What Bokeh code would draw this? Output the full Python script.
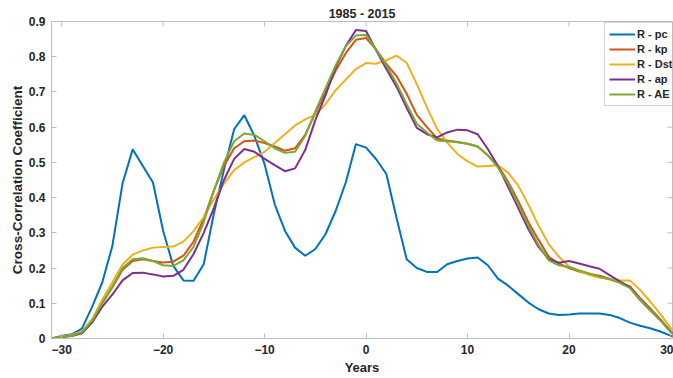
from bokeh.plotting import figure
from bokeh.models import Range1d, FixedTicker, Legend, LegendItem
from bokeh.embed import file_html
from bokeh.resources import INLINE

# Lag (years) and cross-correlation coefficients, 1985 - 2015
years = list(range(-31, 32))

r_pc = [0.0, 0.007, 0.012, 0.028, 0.09, 0.159, 0.263, 0.44, 0.537, 0.49, 0.443,
        0.306, 0.206, 0.165, 0.164, 0.211, 0.354, 0.48, 0.594, 0.634, 0.575, 0.495,
        0.381, 0.306, 0.258, 0.235, 0.254, 0.296, 0.362, 0.443, 0.552, 0.542, 0.509,
        0.467, 0.343, 0.225, 0.2, 0.189, 0.189, 0.211, 0.22, 0.227, 0.23, 0.208,
        0.17, 0.15, 0.126, 0.102, 0.083, 0.071, 0.067, 0.068, 0.071, 0.071, 0.071,
        0.067, 0.058, 0.045, 0.036, 0.029, 0.02, 0.008, 0.003]

r_kp = [0.0, 0.005, 0.008, 0.018, 0.05, 0.1, 0.145, 0.195, 0.22, 0.225, 0.22,
        0.216, 0.218, 0.235, 0.275, 0.34, 0.42, 0.49, 0.54, 0.56, 0.562, 0.555,
        0.545, 0.533, 0.54, 0.578, 0.64, 0.7, 0.76, 0.81, 0.848, 0.853, 0.82,
        0.78, 0.745, 0.695, 0.635, 0.6, 0.568, 0.562, 0.558, 0.553, 0.545, 0.52,
        0.49, 0.445, 0.39, 0.33, 0.28, 0.232, 0.213, 0.2, 0.19, 0.183, 0.178,
        0.17, 0.16, 0.148, 0.115, 0.085, 0.055, 0.02, 0.0]

r_dst = [0.0, 0.006, 0.01, 0.02, 0.055, 0.11, 0.16, 0.21, 0.238, 0.25, 0.258,
         0.26, 0.261, 0.275, 0.305, 0.345, 0.395, 0.44, 0.478, 0.5, 0.515, 0.53,
         0.555, 0.58, 0.605, 0.622, 0.635, 0.665, 0.705, 0.735, 0.765, 0.782, 0.78,
         0.79, 0.803, 0.783, 0.722, 0.656, 0.595, 0.556, 0.524, 0.503, 0.488, 0.49,
         0.492, 0.471, 0.434, 0.38, 0.32, 0.268, 0.232, 0.205, 0.192, 0.18, 0.173,
         0.168, 0.165, 0.165, 0.138, 0.105, 0.07, 0.03, 0.0]

r_ap = [0.0, 0.004, 0.007, 0.015, 0.045, 0.09, 0.125, 0.165, 0.186, 0.187, 0.182,
        0.176, 0.178, 0.195, 0.24, 0.3, 0.37, 0.45, 0.51, 0.538, 0.53, 0.51,
        0.492, 0.475, 0.483, 0.535, 0.62, 0.69, 0.77, 0.83, 0.876, 0.873, 0.818,
        0.765, 0.715, 0.655, 0.598, 0.58, 0.571, 0.585, 0.593, 0.591, 0.58, 0.538,
        0.49, 0.43, 0.37, 0.31, 0.26, 0.225, 0.215, 0.22, 0.213, 0.205, 0.198,
        0.18, 0.162, 0.145, 0.11, 0.08, 0.052, 0.02, 0.0]

r_ae = [0.0, 0.005, 0.008, 0.018, 0.05, 0.1, 0.148, 0.2, 0.225, 0.228, 0.22,
        0.208, 0.206, 0.222, 0.26, 0.33, 0.42, 0.5, 0.56, 0.582, 0.578, 0.56,
        0.54, 0.527, 0.53, 0.575, 0.645, 0.71, 0.775, 0.83, 0.86, 0.862, 0.82,
        0.775, 0.725, 0.665, 0.61, 0.585, 0.562, 0.56, 0.557, 0.553, 0.545, 0.52,
        0.485, 0.44, 0.38, 0.32, 0.265, 0.222, 0.208, 0.203, 0.193, 0.185, 0.175,
        0.168, 0.158, 0.143, 0.11, 0.08, 0.052, 0.018, 0.0]

series_names = ["R - pc", "R - kp", "R - Dst", "R - ap", "R - AE"]
series_values = [r_pc, r_kp, r_dst, r_ap, r_ae]
series_colors = ["#0072BD", "#D95319", "#EDB120", "#7E2F8E", "#77AC30"]

x_ticks = [-30, -20, -10, 0, 10, 20, 30]
y_ticks = [0, 0.1, 0.2, 0.3, 0.4, 0.5, 0.6, 0.7, 0.8, 0.9]

FONT = "Liberation Sans"
TEXT = "#262626"
FRAME = "#bdbdbd"

X0, X1 = -31, 30.2
Y0, Y1 = 0, 0.9

p = figure(width=673, height=378, output_backend="svg", toolbar_location=None,
           x_range=Range1d(X0, X1), y_range=Range1d(Y0, Y1),
           min_border_left=51, min_border_right=1, min_border_top=21,
           min_border_bottom=40, title="1985 - 2015")
p.outline_line_color = FRAME
p.grid.visible = False
p.background_fill_color = "white"
p.border_fill_color = "white"

p.title.align = "center"
p.title.offset = 2
p.title.standoff = 1
p.title.text_font = FONT
p.title.text_font_style = "bold"
p.title.text_font_size = "12.5px"
p.title.text_color = TEXT
p.title.text_line_height = 1.0

for ax in (p.xaxis[0], p.yaxis[0]):
    ax.major_tick_in = 5
    ax.major_tick_out = 0
    ax.minor_tick_line_color = None
    ax.axis_line_color = FRAME
    ax.major_tick_line_color = FRAME
    ax.major_label_text_font = FONT
    ax.major_label_text_font_style = "bold"
    ax.major_label_text_font_size = "12px"
    ax.major_label_text_color = TEXT
    ax.axis_label_text_font = FONT
    ax.axis_label_text_font_style = "bold"
    ax.axis_label_text_color = TEXT

p.xaxis.ticker = FixedTicker(ticks=x_ticks)
p.yaxis.ticker = FixedTicker(ticks=y_ticks)
p.yaxis.major_label_overrides = {0: "0"}
p.xaxis.axis_label = "Years"
p.yaxis.axis_label = "Cross-Correlation Coefficient"
p.xaxis.axis_label_text_font_size = "13px"
p.yaxis.axis_label_text_font_size = "13.5px"
p.xaxis.major_label_standoff = 6
p.xaxis.axis_label_standoff = 3
p.yaxis.major_label_standoff = 6
p.yaxis.axis_label_standoff = 1

# inward tick stubs on the top and right edges of the box
tick_dy = (Y1 - Y0) * 5 / 317.0
tick_dx = (X1 - X0) * 5 / 621.0
p.segment(x0=x_ticks, y0=[Y1] * len(x_ticks), x1=x_ticks, y1=[Y1 - tick_dy] * len(x_ticks),
          line_color=FRAME, line_width=1)
p.segment(x0=[X1] * len(y_ticks), y0=y_ticks, x1=[X1 - tick_dx] * len(y_ticks), y1=y_ticks,
          line_color=FRAME, line_width=1)

items = []
for name, vals, col in zip(series_names, series_values, series_colors):
    r = p.line(years, vals, line_color=col, line_width=2)
    items.append(LegendItem(label=name, renderers=[r]))

legend = Legend(items=items, location=(553, 232))
legend.label_text_font = FONT
legend.label_text_font_style = "bold"
legend.label_text_font_size = "11px"
legend.label_text_color = TEXT
legend.glyph_width = 26
legend.glyph_height = 14
legend.label_height = 14
legend.label_standoff = 2
legend.spacing = 1
legend.padding = 4
legend.margin = 0
legend.border_line_color = "#a8a8a8"
legend.background_fill_color = "white"
legend.background_fill_alpha = 1
p.add_layout(legend)

open("out.html", "w").write(file_html(p, INLINE))
